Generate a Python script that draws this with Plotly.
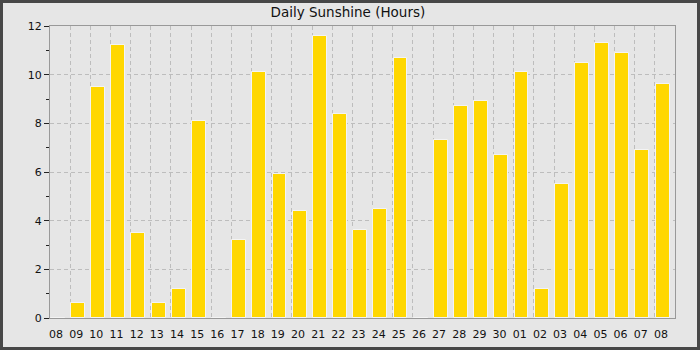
import plotly.graph_objects as go

labels = ["08", "09", "10", "11", "12", "13", "14", "15", "16", "17", "18", "19", "20",
          "21", "22", "23", "24", "25", "26", "27", "28", "29", "30", "01", "02", "03",
          "04", "05", "06", "07", "08"]
sunshine = [0, 0.6, 9.5, 11.2, 3.5, 0.6, 1.2, 8.1, 0, 3.2, 10.1, 5.9, 4.4,
            11.6, 8.4, 3.6, 4.5, 10.7, 0, 7.3, 8.7, 8.9, 6.7, 10.1, 1.2, 5.5,
            10.5, 11.3, 10.9, 6.9, 9.6]

n = len(labels)
idx = list(range(n))
bar_x = [i + 0.385 for i in idx]
label_x = [i + 0.3 for i in idx]

fig = go.Figure()
fig.add_trace(go.Bar(
    x=bar_x, y=sunshine, width=0.69,
    marker=dict(color="#ffd700", line=dict(color="#f4f4f4", width=1)),
    xaxis="x", yaxis="y", showlegend=False, hoverinfo="skip",
))
# invisible trace to activate label axis
fig.add_trace(go.Scatter(x=[0, n], y=[0, 0], mode="markers", marker=dict(opacity=0),
                         xaxis="x2", yaxis="y", showlegend=False, hoverinfo="skip"))

bg = "#e6e6e6"
fig.update_layout(
    width=700, height=350,
    margin=dict(l=50, r=25, t=26, b=32, autoexpand=False),
    paper_bgcolor=bg, plot_bgcolor=bg,
    font=dict(family="DejaVu Sans", size=11, color="#111111"),
    title=dict(text="Daily Sunshine (Hours)", xref="container", x=0.497, xanchor="center",
               yref="container", y=1 - 12 / 350, yanchor="middle",
               font=dict(family="DejaVu Sans", size=13.5, color="#111111")),
    bargap=0,
    xaxis=dict(range=[0, n], tickvals=list(range(1, n)), showticklabels=False, ticks="",
               showgrid=True, gridcolor="#bdbdbd", griddash="4px,3px", gridwidth=1,
               zeroline=False, showline=True, linecolor="#999999", linewidth=1, mirror=True),
    xaxis2=dict(range=[0, n], overlaying="x", side="bottom", tickvals=label_x, ticktext=labels,
                showgrid=False, zeroline=False, ticks="", showline=False,
                tickfont=dict(family="DejaVu Sans", size=11, color="#111111"),
                ticklabelstandoff=8),
    yaxis=dict(range=[0, 12], tickvals=[0, 2, 4, 6, 8, 10, 12], ticks="outside", ticklen=5,
               tickcolor="#222222", tickwidth=1,
               showgrid=True, gridcolor="#bdbdbd", griddash="4px,3px", gridwidth=1,
               zeroline=False, showline=True, linecolor="#999999", linewidth=1, mirror=True,
               tickfont=dict(family="DejaVu Sans", size=11, color="#111111"),
               minor=dict(tickvals=[1, 3, 5, 7, 9, 11], ticks="outside", ticklen=3,
                          tickcolor="#222222", showgrid=False)),
    shapes=[dict(type="rect", xref="paper", yref="paper",
                 x0=(1.5 - 50) / 625, x1=(698.5 - 50) / 625,
                 y0=(318 - 348.5) / 292, y1=(318 - 1.5) / 292,
                 line=dict(color="#474747", width=3), fillcolor="rgba(0,0,0,0)", layer="above")],
)

fig.write_html("out.html")
